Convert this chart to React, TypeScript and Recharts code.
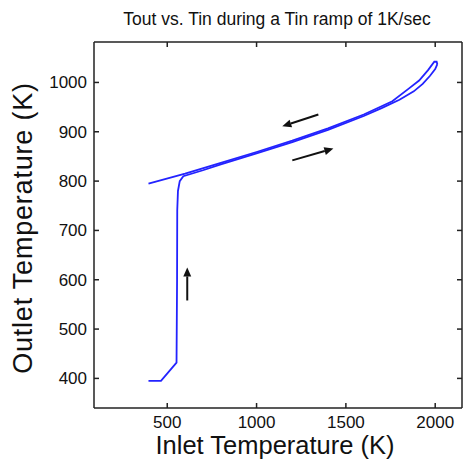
import { ScatterChart, Scatter, XAxis, YAxis, ReferenceLine } from 'recharts';

// Tin (K) -> Tout (K), ramping up
const heatUp = [
  { x: 395, y: 395 }, { x: 465, y: 395 }, { x: 552, y: 432 }, { x: 555, y: 600 },
  { x: 556, y: 741 }, { x: 560, y: 780 }, { x: 570, y: 800 }, { x: 590, y: 810 },
  { x: 700, y: 822 }, { x: 800, y: 834 }, { x: 1000, y: 856 }, { x: 1200, y: 879 },
  { x: 1400, y: 904 }, { x: 1600, y: 932 }, { x: 1700, y: 948 }, { x: 1800, y: 965 },
  { x: 1880, y: 982 }, { x: 1930, y: 997 }, { x: 1970, y: 1013 }, { x: 2000, y: 1027 },
  { x: 2012, y: 1037 },
];

// ramping back down
const coolDown = [
  { x: 2012, y: 1037 }, { x: 2008, y: 1042 }, { x: 1995, y: 1042 }, { x: 1960, y: 1025 },
  { x: 1910, y: 1004 }, { x: 1850, y: 987 }, { x: 1760, y: 962 }, { x: 1600, y: 935 },
  { x: 1400, y: 907 }, { x: 1200, y: 882 }, { x: 1000, y: 859 }, { x: 800, y: 837 },
  { x: 600, y: 815 }, { x: 395, y: 795 },
];

const xTicks = [500, 1000, 1500, 2000];
const yTicks = [400, 500, 600, 700, 800, 900, 1000];

// direction arrows: [tail, head]
const arrows = [
  [{ x: 1346, y: 935 }, { x: 1144, y: 911 }],
  [{ x: 1200, y: 842 }, { x: 1430, y: 866 }],
  [{ x: 612, y: 558 }, { x: 612, y: 625 }],
];

const FONT = '"Liberation Sans", Arial, sans-serif';
const BLUE = '#2323ff';
const AXIS = '#222';

const Arrow = (props: any) => {
  const { x1, y1, x2, y2 } = props;
  const ang = Math.atan2(y2 - y1, x2 - x1);
  const len = 9;
  const w = 4;
  const bx = x2 - len * Math.cos(ang);
  const by = y2 - len * Math.sin(ang);
  const px = -Math.sin(ang) * w;
  const py = Math.cos(ang) * w;
  return (
    <g>
      <line x1={x1} y1={y1} x2={bx} y2={by} stroke="#111" strokeWidth={2} />
      <polygon points={`${x2},${y2} ${bx + px},${by + py} ${bx - px},${by - py}`} fill="#111" />
    </g>
  );
};

const blank = () => '';

export default function App() {
  const tickStyle = { fontSize: 17, fill: '#111', fontFamily: FONT };
  return (
    <div style={{ position: 'absolute', left: 0, top: 0, width: 464, height: 468, background: '#fff' }}>
      <ScatterChart width={464} height={468} margin={{ top: 40, right: 0, bottom: 0, left: 0 }}>
        <XAxis
          type="number"
          dataKey="x"
          domain={[90, 2150]}
          ticks={xTicks}
          allowDataOverflow
          height={60}
          tickSize={-5}
          tickMargin={13}
          tick={tickStyle}
          stroke={AXIS}
          strokeWidth={1.5}
        />
        <XAxis
          xAxisId="top"
          orientation="top"
          type="number"
          dataKey="x"
          domain={[90, 2150]}
          ticks={xTicks}
          allowDataOverflow
          height={2}
          tickSize={-5}
          tickFormatter={blank}
          stroke={AXIS}
          strokeWidth={1.5}
        />
        <YAxis
          type="number"
          dataKey="y"
          domain={[340, 1082]}
          ticks={yTicks}
          allowDataOverflow
          width={94}
          tickSize={-5}
          tickMargin={12}
          tick={tickStyle}
          stroke={AXIS}
          strokeWidth={1.5}
        />
        <YAxis
          yAxisId="right"
          orientation="right"
          type="number"
          dataKey="y"
          domain={[340, 1082]}
          ticks={yTicks}
          allowDataOverflow
          width={2}
          tickSize={-5}
          tickFormatter={blank}
          stroke={AXIS}
          strokeWidth={1.5}
        />
        <Scatter
          data={heatUp}
          fill={BLUE}
          line={{ stroke: BLUE, strokeWidth: 1.8 }}
          lineType="joint"
          shape={() => null}
          isAnimationActive={false}
        />
        <Scatter
          data={coolDown}
          fill={BLUE}
          line={{ stroke: BLUE, strokeWidth: 1.8 }}
          lineType="joint"
          shape={() => null}
          isAnimationActive={false}
        />
        {/* invisible series so the top/right frame axes get drawn */}
        <Scatter
          xAxisId="top"
          yAxisId="right"
          data={coolDown}
          fill="none"
          shape={() => null}
          isAnimationActive={false}
        />
        {arrows.map((a, i) => (
          <ReferenceLine key={i} segment={a} shape={Arrow} />
        ))}
      </ScatterChart>
      <svg width={464} height={468} style={{ position: 'absolute', left: 0, top: 0, pointerEvents: 'none' }}>
        <text x={277} y={25} textAnchor="middle" fontSize={17.5} fontFamily={FONT} fill="#111">
          Tout vs. Tin during a Tin ramp of 1K/sec
        </text>
        <text x={275} y={454} textAnchor="middle" fontSize={25.5} fontFamily={FONT} fill="#111">
          Inlet Temperature (K)
        </text>
        <text
          x={32}
          y={228}
          textAnchor="middle"
          fontSize={27}
          letterSpacing={0.8}
          fontFamily={FONT}
          fill="#111"
          transform="rotate(-90 32 228)"
        >
          Outlet Temperature (K)
        </text>
      </svg>
    </div>
  );
}
